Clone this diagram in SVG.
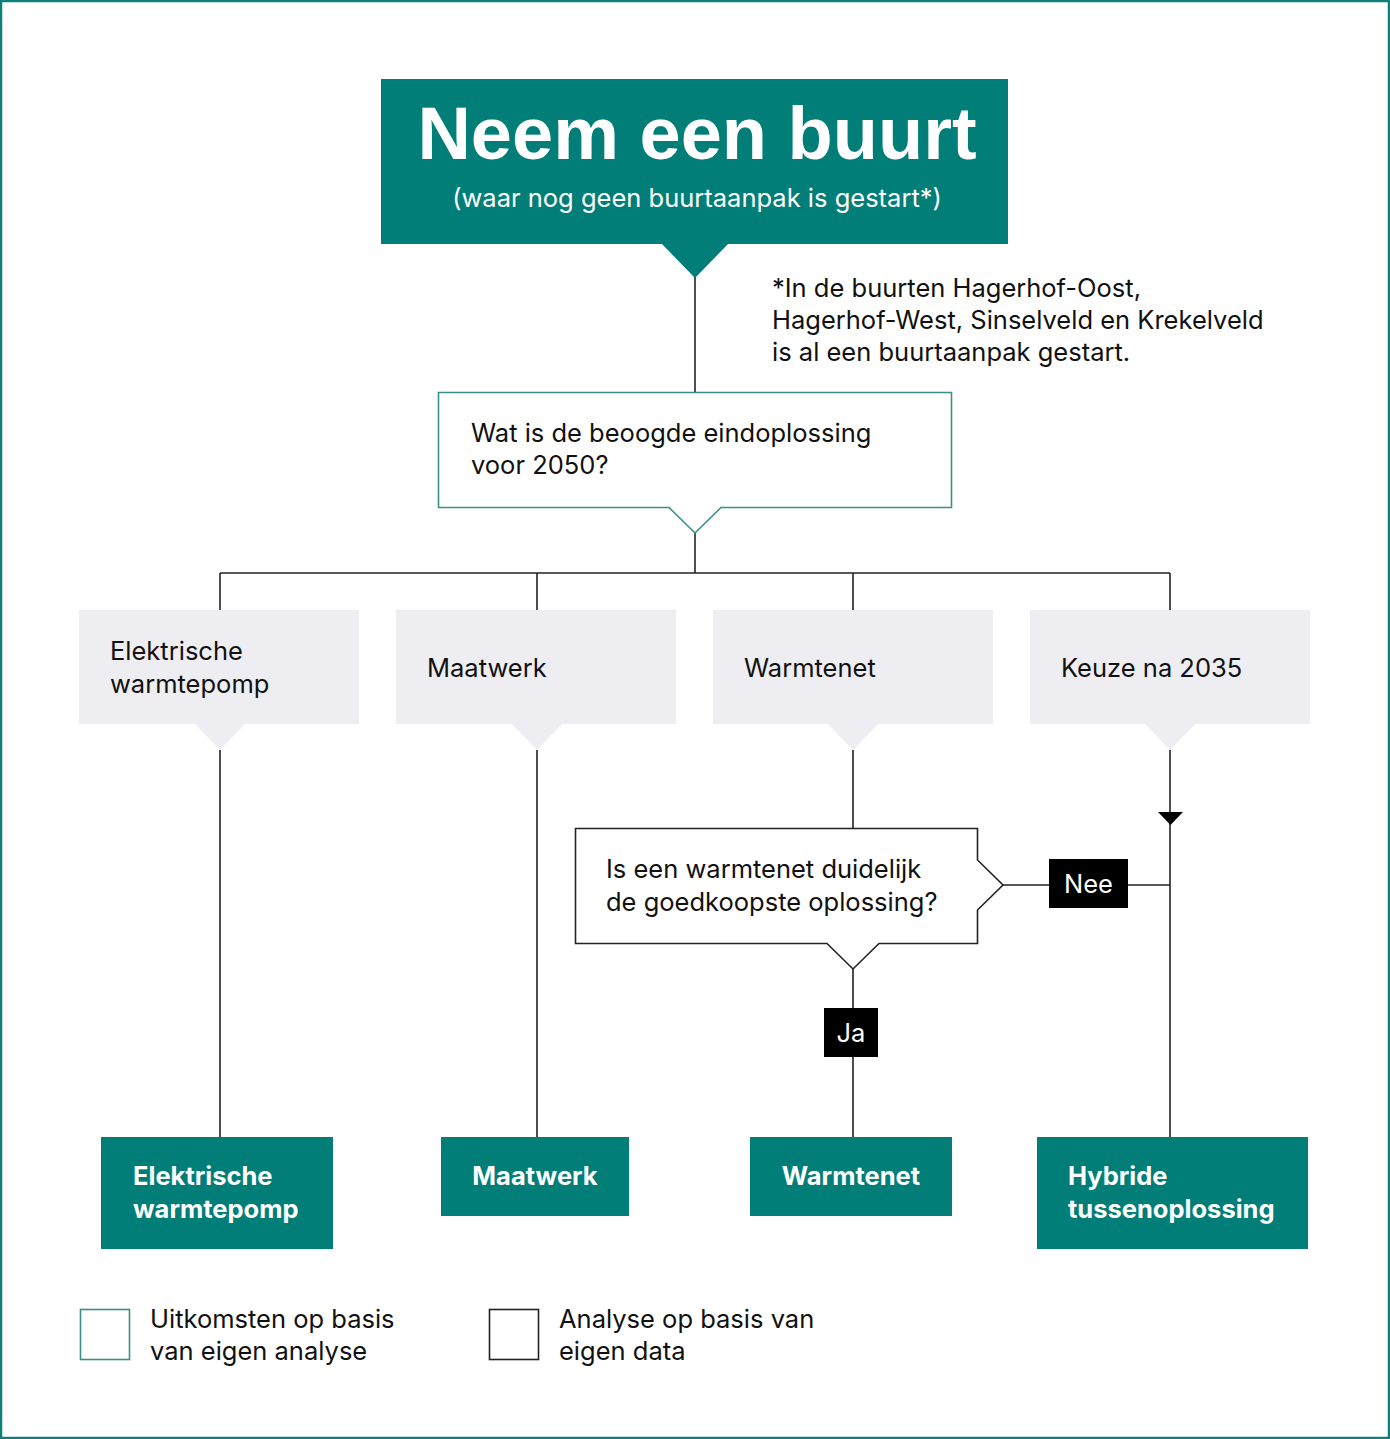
<svg xmlns="http://www.w3.org/2000/svg" width="1390" height="1439" viewBox="0 0 1390 1439">
<defs>
<style>
.t{font-family:Inter,"Liberation Sans",Arial,sans-serif;font-size:25.5px;fill:#111}
.w{font-family:Inter,"Liberation Sans",Arial,sans-serif;font-size:25.5px;fill:#fff}
.h{font-family:"Liberation Sans",Arial,sans-serif}
.b{font-weight:bold}
.ln{stroke:#222;stroke-width:1.6;fill:none}
.teal{fill:#017e78}
.gray{fill:#ededf2}
.lab{fill:#000}
</style>
</defs>
<rect x="1" y="1" width="1388" height="1437" fill="#fff" stroke="#0f7f7a" stroke-width="2.5"/>
<g id="connectors">
<line class="ln" x1="695" y1="277" x2="695" y2="392"/>
<line class="ln" x1="695" y1="532" x2="695" y2="573"/>
<line class="ln" x1="220" y1="573" x2="1170" y2="573"/>
<line class="ln" x1="220" y1="573" x2="220" y2="610"/>
<line class="ln" x1="537" y1="573" x2="537" y2="610"/>
<line class="ln" x1="853" y1="573" x2="853" y2="610"/>
<line class="ln" x1="1170" y1="573" x2="1170" y2="610"/>
<line class="ln" x1="220" y1="750" x2="220" y2="1137"/>
<line class="ln" x1="537" y1="750" x2="537" y2="1137"/>
<line class="ln" x1="853" y1="750" x2="853" y2="828"/>
<line class="ln" x1="853" y1="969" x2="853" y2="1137"/>
<line class="ln" x1="1170" y1="750" x2="1170" y2="1137"/>
<line class="ln" x1="1003" y1="885" x2="1170" y2="885"/>
<polygon points="1158,812 1183,812 1170.5,825" fill="#000"/>
</g>
<g id="start">
<rect class="teal" x="381" y="79" width="627" height="165"/>
<polygon class="teal" points="661,243 729,243 695,278"/>
<text class="w h b" x="697" y="159" font-size="74" style="font-size:74px" text-anchor="middle">Neem een buurt</text>
<text class="w" x="697" y="207" text-anchor="middle">(waar nog geen buurtaanpak is gestart*)</text>
</g>
<g id="footnote">
<text class="t" x="772" y="297">*In de buurten Hagerhof-Oost,</text>
<text class="t" x="772" y="329">Hagerhof-West, Sinselveld en Krekelveld</text>
<text class="t" x="772" y="361">is al een buurtaanpak gestart.</text>
</g>
<g id="question">
<path d="M438.5,392.5 H951.5 V507.5 H721 L695,533 L669,507.5 H438.5 Z" fill="#fff" stroke="#3b8f8a" stroke-width="1.6"/>
<text class="t" x="471" y="442">Wat is de beoogde eindoplossing</text>
<text class="t" x="471" y="474">voor 2050?</text>
</g>
<g id="opt-ewp">
<rect class="gray" x="79" y="610" width="280" height="114"/>
<polygon class="gray" points="194,723 246,723 220,750"/>
<text class="t" x="110" y="660">Elektrische</text>
<text class="t" x="110" y="693">warmtepomp</text>
</g>
<g id="opt-maatwerk">
<rect class="gray" x="396" y="610" width="280" height="114"/>
<polygon class="gray" points="511,723 563,723 537,750"/>
<text class="t" x="427" y="677">Maatwerk</text>
</g>
<g id="opt-warmtenet">
<rect class="gray" x="713" y="610" width="280" height="114"/>
<polygon class="gray" points="827,723 879,723 853,750"/>
<text class="t" x="744" y="677">Warmtenet</text>
</g>
<g id="opt-keuze">
<rect class="gray" x="1030" y="610" width="280" height="114"/>
<polygon class="gray" points="1144,723 1196,723 1170,750"/>
<text class="t" x="1061" y="677">Keuze na 2035</text>
</g>
<g id="decision">
<path d="M575.5,828.5 H977.5 V860 L1003,885 L977.5,910 V943.5 H879 L853,969 L827,943.5 H575.5 Z" fill="#fff" stroke="#222" stroke-width="1.6"/>
<text class="t" x="606" y="878">Is een warmtenet duidelijk</text>
<text class="t" x="606" y="911">de goedkoopste oplossing?</text>
</g>
<g id="label-nee">
<rect class="lab" x="1049" y="859" width="79" height="49"/>
<text class="w" x="1088.5" y="893" text-anchor="middle">Nee</text>
</g>
<g id="label-ja">
<rect class="lab" x="824" y="1008" width="54" height="49"/>
<text class="w" x="851" y="1042" text-anchor="middle">Ja</text>
</g>
<g id="res-ewp">
<rect class="teal" x="101" y="1137" width="232" height="112"/>
<text class="w b" x="133" y="1185">Elektrische</text>
<text class="w b" x="133" y="1218">warmtepomp</text>
</g>
<g id="res-maatwerk">
<rect class="teal" x="441" y="1137" width="188" height="79"/>
<text class="w b" x="535" y="1185" text-anchor="middle">Maatwerk</text>
</g>
<g id="res-warmtenet">
<rect class="teal" x="750" y="1137" width="202" height="79"/>
<text class="w b" x="851" y="1185" text-anchor="middle">Warmtenet</text>
</g>
<g id="res-hybride">
<rect class="teal" x="1037" y="1137" width="271" height="112"/>
<text class="w b" x="1068" y="1185">Hybride</text>
<text class="w b" x="1068" y="1218">tussenoplossing</text>
</g>
<g id="legend">
<rect x="80.5" y="1309.5" width="49" height="50" fill="#fff" stroke="#3b8f8a" stroke-width="1.6"/>
<text class="t" x="150" y="1328">Uitkomsten op basis</text>
<text class="t" x="150" y="1360">van eigen analyse</text>
<rect x="489.5" y="1309.5" width="49" height="50" fill="#fff" stroke="#222" stroke-width="1.6"/>
<text class="t" x="559" y="1328">Analyse op basis van</text>
<text class="t" x="559" y="1360">eigen data</text>
</g>
</svg>
